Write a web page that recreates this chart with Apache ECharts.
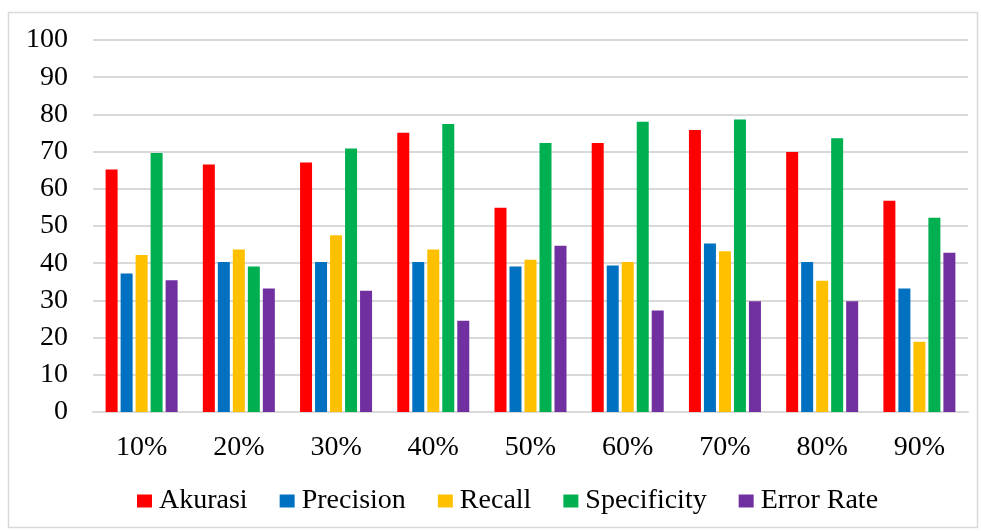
<!DOCTYPE html>
<html><head><meta charset="utf-8">
<script src="https://cdn.jsdelivr.net/npm/echarts@6/dist/echarts.min.js"></script>
<style>html,body{margin:0;padding:0;background:#fff}#c{width:981px;height:531px}</style>
</head><body><div id="c"></div>
<script>
const categories = ['10%','20%','30%','40%','50%','60%','70%','80%','90%'];
const akurasi     = [65.2, 66.5, 67.1, 75.1, 54.9, 72.3, 75.8, 69.9, 56.8];
const precision   = [37.2, 40.3, 40.3, 40.3, 39.1, 39.4, 45.3, 40.3, 33.2];
const recall      = [42.2, 43.7, 47.5, 43.7, 40.9, 40.3, 43.2, 35.3, 18.9];
const specificity = [69.6, 39.1, 70.8, 77.4, 72.3, 78.0, 78.6, 73.6, 52.2];
const errorRate   = [35.4, 33.2, 32.6, 24.5, 44.7, 27.3, 29.8, 29.8, 42.8];
const seriesNames = ['Akurasi','Precision','Recall','Specificity','Error Rate'];
const colors = ['#ff0000','#0070c0','#ffc000','#00b050','#7030a0'];
const yTicks = [0,10,20,30,40,50,60,70,80,90,100];

const font = 'Liberation Serif';
const chart = echarts.init(document.getElementById('c'));
const data = [akurasi, precision, recall, specificity, errorRate];
chart.setOption({
  animation: false,
  graphic: [{type:'rect', shape:{x:8.5,y:12.5,width:969,height:515}, style:{fill:'none',stroke:'#d9d9d9',lineWidth:1.5}}],
  grid: {left: 93, right: 13, top: 40, bottom: 119, containLabel: false},
  legend: {
    top: 482, left: 132, itemWidth: 15, itemHeight: 13, itemGap: 32,
    icon: 'rect',
    textStyle: {fontFamily: font, fontSize: 28, color: '#000', padding: [0,0,0,2]},
    data: seriesNames
  },
  xAxis: {
    type: 'category', data: categories,
    axisLine: {lineStyle: {color: '#d9d9d9', width: 2}},
    axisTick: {show: false},
    axisLabel: {fontFamily: font, fontSize: 28, color: '#000', margin: 22}
  },
  yAxis: {
    type: 'value', min: yTicks[0], max: yTicks[yTicks.length-1], interval: 10,
    axisLine: {show: false}, axisTick: {show: false},
    axisLabel: {fontFamily: font, fontSize: 28, color: '#000', margin: 25},
    splitLine: {lineStyle: {color: '#d9d9d9', width: 2}}
  },
  series: seriesNames.map((n,i) => ({
    name: n, type: 'bar', data: data[i], barWidth: 12, barGap: '25%',
    itemStyle: {color: colors[i]}
  }))
});
</script></body></html>
